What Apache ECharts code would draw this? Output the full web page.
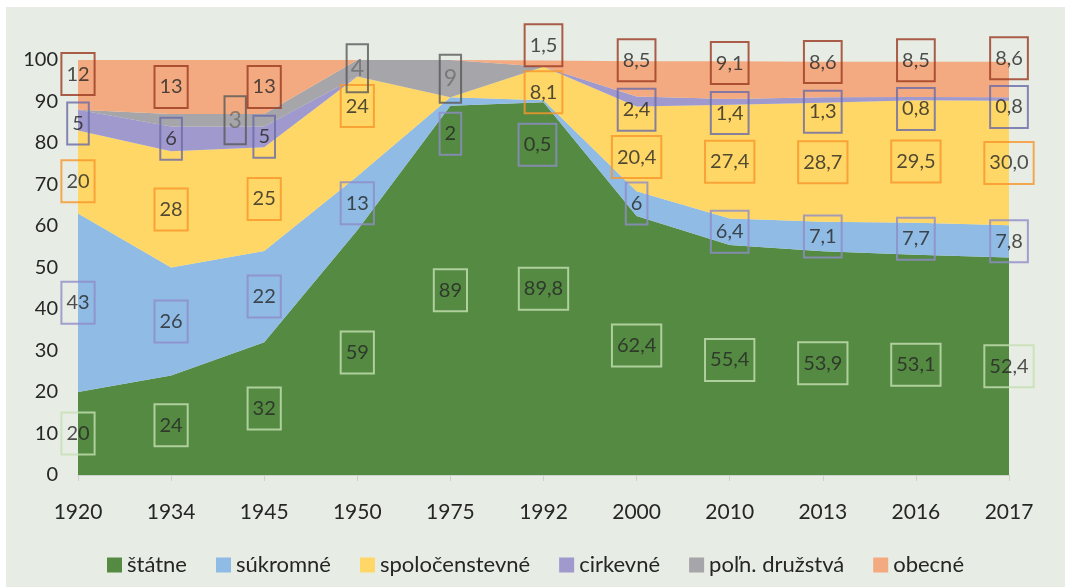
<!DOCTYPE html>
<html>
<head>
<meta charset="utf-8">
<script src="https://cdn.jsdelivr.net/npm/echarts@6/dist/echarts.min.js"></script>
<style>
  html, body { margin: 0; padding: 0; background: #fff; }
  #chart { position: absolute; left: 6px; top: 7px; width: 1059px; height: 580px; }
</style>
</head>
<body>
<div id="chart"></div>
<script>
// values (percent shares)
const years = ['1920', '1934', '1945', '1950', '1975', '1992', '2000', '2010', '2013', '2016', '2017']
const statne = [20, 24, 32, 59, 89, 89.8, 62.4, 55.4, 53.9, 53.1, 52.4]
const sukromne = [43, 26, 22, 13, 2, 0.5, 6, 6.4, 7.1, 7.7, 7.8]
const spolocenstevne = [20, 28, 25, 24, 0, 8.1, 20.4, 27.4, 28.7, 29.5, 30.0]
const cirkevne = [5, 6, 5, 0, 0, 0, 2.4, 1.4, 1.3, 0.8, 0.8]
const polnDruzstva = [0, 3, 3, 4, 9, 0, 0, 0, 0, 0, 0]
const obecne = [12, 13, 13, 0, 0, 1.5, 8.5, 9.1, 8.6, 8.5, 8.6]

const FONT = 'Lato, "Open Sans", sans-serif'

const seriesDefs = [
  { name: 'štátne', data: statne, color: '#548a42', box: '#c5e0b3' },
  { name: 'súkromné', data: sukromne, color: '#8fbbe4', box: '#8e8cc8' },
  { name: 'spoločenstevné', data: spolocenstevne, color: '#ffd766', box: '#f7962c' },
  { name: 'cirkevné', data: cirkevne, color: '#9f99cd', box: '#6a6aa8' },
  { name: 'poľn. družstvá', data: polnDruzstva, color: '#a6a5a9', box: '#595959' },
  { name: 'obecné', data: obecne, color: '#f4aa80', box: '#9a3a20' }
]

// label placement tweaks (value units up/down from the band middle, px sideways)
const labelShift = {
  'súkromné': { 1975: -7.8, 1992: -10.5 },
  'spoločenstevné': { 1920: -2.2, 1950: 4.9, 1992: -2.1, 2000: -2 },
  'cirkevné': { 1920: -0.8, 2000: -2, 2010: -2.7, 2013: -2.8, 2016: -2.5, 2017: -1.9 },
  'obecné': { 1920: 2.6, 1992: 4.4, 2000: 4.5, 2010: 4.1, 2013: 4.2, 2016: 4.6, 2017: 5.1 }
}
const labelNudgeX = {
  'súkromné': { 1992: -6 },
  'poľn. družstvá': { 1945: -29 }
}
const hiddenLabels = ['poľn. družstvá|1934']

const fmt = (v, year) => (Number(year) >= 2013 ? v.toFixed(1) : String(v)).replace('.', ',')

const base = years.map(() => 0)
const areaSeries = []
const labelSeries = []

seriesDefs.forEach(def => {
  areaSeries.push({
    name: def.name,
    type: 'line',
    stack: 'total',
    data: def.data,
    symbol: 'none',
    lineStyle: { width: 0 },
    areaStyle: { color: def.color, opacity: 1 },
    itemStyle: { color: def.color },
    emphasis: { disabled: true },
    z: 2
  })

  const points = []
  def.data.forEach((v, i) => {
    const year = years[i]
    if (v && !hiddenLabels.includes(def.name + '|' + year)) {
      const shift = (labelShift[def.name] || {})[year] || 0
      const dx = (labelNudgeX[def.name] || {})[year] || 0
      points.push({
        value: [i, base[i] + v / 2 + shift],
        raw: v,
        label: { offset: [dx, 0] }
      })
    }
    base[i] += v
  })

  const gray = def.name === 'poľn. družstvá'
  labelSeries.push({
    name: 'lbl ' + def.name,
    type: 'scatter',
    data: points,
    symbolSize: 0,
    clip: false,
    silent: true,
    z: 10,
    label: {
      show: true,
      position: 'inside',
      formatter: p => fmt(p.data.raw, years[p.data.value[0]]),
      fontFamily: FONT,
      fontSize: gray ? 23 : 20,
      lineHeight: gray ? 24 : 22,
      color: gray ? '#6e6e6e' : '#262626',
      borderColor: def.box,
      borderWidth: 2,
      padding: gray ? [13, 4, 11, 4] : [11, 5, 9, 5]
    }
  })
})

const chart = echarts.init(document.getElementById('chart'))
chart.setOption({
  animation: false,
  backgroundColor: '#e7ece4',
  color: seriesDefs.map(d => d.color),
  grid: { left: 72, right: 56, top: 53, bottom: 112, containLabel: false },
  legend: {
    data: seriesDefs.map(d => d.name),
    top: 542,
    left: 'center',
    icon: 'rect',
    itemWidth: 15,
    itemHeight: 15,
    itemGap: 29,
    textStyle: { fontFamily: FONT, fontSize: 22, color: '#262626' }
  },
  xAxis: {
    type: 'category',
    data: years,
    boundaryGap: false,
    axisLine: { show: true, lineStyle: { color: '#d0d0d0', width: 1 } },
    axisTick: { show: true, length: 6, lineStyle: { color: '#d0d0d0' } },
    axisLabel: { margin: 27, fontFamily: FONT, fontSize: 21, color: '#262626' },
    splitLine: { show: false }
  },
  yAxis: {
    type: 'value',
    min: 0,
    max: 100,
    interval: 10,
    axisLine: { show: false },
    axisTick: { show: false },
    axisLabel: { margin: 20, fontFamily: FONT, fontSize: 20, color: '#262626' },
    splitLine: { show: false }
  },
  series: areaSeries.concat(labelSeries)
})
</script>
</body>
</html>
